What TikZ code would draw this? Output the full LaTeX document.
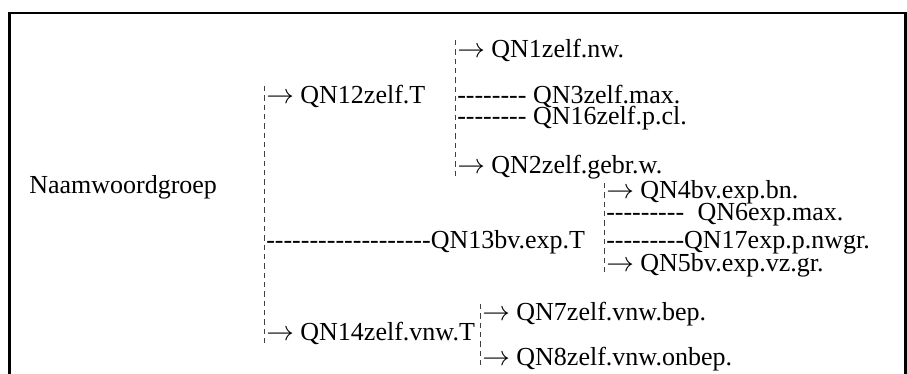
\documentclass[tikz,border=0pt]{standalone}
\usepackage{fontspec}
\setmainfont{Liberation Serif}[Ligatures=TeXOff]
% long arrow used in front of the branch labels
\newcommand{\brarrow}{$\rightarrow$}
\begin{document}
\begin{tikzpicture}[x=0.75pt,y=-0.75pt,
  lbl/.style={anchor=base west,inner sep=0pt,font=\fontsize{19.5}{22}\selectfont},
  vdash/.style={draw=black!75,line width=0.6pt,dash pattern=on 4pt off 3pt},
  frame/.style={line width=1.6pt}]
\useasboundingbox (0,0) rectangle (907,374);
% open frame: top, left and right edges
\draw[frame] (9.5,374) -- (9.5,13) -- (905.5,13) -- (905.5,374);

% root
\node[lbl] (root) at (29,194) {Naamwoordgroep};

% first level
\node[lbl] (qn12) at (266,104) {\brarrow\ QN12zelf.T};
\node[lbl] (qn13) at (266,248) {-------------------QN13bv.exp.T};
\node[lbl] (qn14) at (266,340) {\brarrow\ QN14zelf.vnw.T};
\coordinate (a1) at (264,86);
\coordinate (a2) at (264,345);
\draw[vdash] (a1) -- (a2);

% under QN12zelf.T
\node[lbl] (qn1)  at (457,58)  {\brarrow\ QN1zelf.nw.};
\node[lbl] (qn3)  at (457,104) {-------- QN3zelf.max.};
\node[lbl] (qn16) at (457,125) {-------- QN16zelf.p.cl.};
\node[lbl] (qn2)  at (457,174) {\brarrow\ QN2zelf.gebr.w.};
\coordinate (b1) at (455,40);
\coordinate (b2) at (455,177);
\draw[vdash] (b1) -- (b2);

% under QN13bv.exp.T
\node[lbl] (qn4)  at (606,199) {\brarrow\ QN4bv.exp.bn.};
\node[lbl] (qn6)  at (606,221) {---------\hspace*{10pt}QN6exp.max.};
\node[lbl] (qn17) at (606,248) {---------QN17exp.p.nwgr.};
\node[lbl] (qn5)  at (606,272) {\brarrow\ QN5bv.exp.vz.gr.};
\coordinate (c1) at (604,183);
\coordinate (c2) at (604,276);
\draw[vdash] (c1) -- (c2);

% under QN14zelf.vnw.T
\node[lbl] (qn7) at (482,320) {\brarrow\ QN7zelf.vnw.bep.};
\node[lbl] (qn8) at (482,365) {\brarrow\ QN8zelf.vnw.onbep.};
\coordinate (d1) at (480,304);
\coordinate (d2) at (480,369);
\draw[vdash] (d1) -- (d2);
\end{tikzpicture}
\end{document}
